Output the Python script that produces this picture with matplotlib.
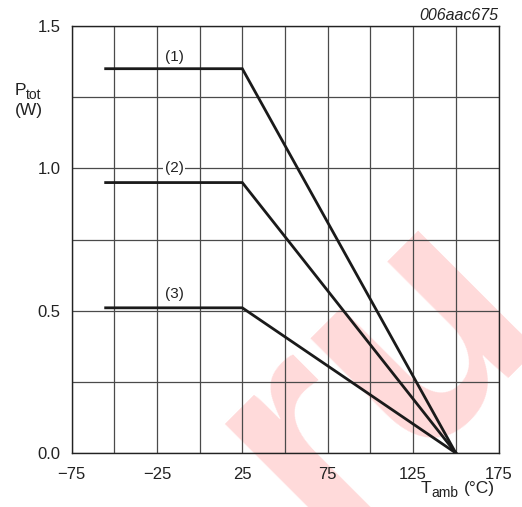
import matplotlib
matplotlib.use("Agg")
import matplotlib.pyplot as plt

plt.rcParams["font.family"] = ["Liberation Sans", "DejaVu Sans"]

# Power derating curves: total power vs ambient temperature
t_amb = [-55, 25, 150]
p_curve1 = [1.35, 1.35, 0.0]
p_curve2 = [0.95, 0.95, 0.0]
p_curve3 = [0.51, 0.51, 0.0]
curves = [p_curve1, p_curve2, p_curve3]
curve_labels = ["(1)", "(2)", "(3)"]
label_x = [-15, -15, -15]
label_y = [1.39, 1.0, 0.56]

x_ticks = [-75, -50, -25, 0, 25, 50, 75, 100, 125, 150, 175]
x_tick_labels = ["\u221275", "", "\u221225", "", "25", "", "75", "", "125", "", "175"]
y_ticks = [0.0, 0.25, 0.5, 0.75, 1.0, 1.25, 1.5]
y_tick_labels = ["0.0", "", "0.5", "", "1.0", "", "1.5"]

W, H = 522, 507
fig = plt.figure(figsize=(W / 100, H / 100), dpi=100)
fig.patch.set_facecolor("white")

# background mark
fig.text(322 / W, 1 - 543 / H, "ru", rotation=45, rotation_mode="anchor",
         ha="left", va="baseline", fontsize=229, fontweight="bold",
         family="Liberation Sans", color="#FFDADA", zorder=-5)

ax = fig.add_axes([71.5 / W, 1 - 453 / H, 427 / W, 427 / H])
ax.set_facecolor("none")
ax.set_xlim(-75, 175)
ax.set_ylim(0, 1.5)

ax.set_xticks(x_ticks)
ax.set_xticklabels(x_tick_labels)
ax.set_yticks(y_ticks)
ax.set_yticklabels(y_tick_labels)
ax.tick_params(length=0, labelsize=12, labelcolor="#222222")
ax.tick_params(axis="x", pad=10)
ax.tick_params(axis="y", pad=8)
ax.grid(True, color="#4a4a4a", linewidth=0.9)
ax.set_axisbelow(True)
for sp in ax.spines.values():
    sp.set_color("#222222")
    sp.set_linewidth(1.0)

for p in curves:
    ax.plot(t_amb, p, color="#1a1a1a", linewidth=2.0, solid_joinstyle="miter", zorder=3)

for lab, lx, ly in zip(curve_labels, label_x, label_y):
    ax.text(lx, ly, lab, ha="center", va="center", fontsize=11, color="#222222",
            bbox=dict(facecolor="white", edgecolor="none", pad=1.0), zorder=4)

# axis titles (main letter plus lowered subscript)
txt = "#222222"
fig.text(15 / W, 1 - 95 / H, "P", ha="left", va="baseline", fontsize=12.5, color=txt)
fig.text(26 / W, 1 - 99 / H, "tot", ha="left", va="baseline", fontsize=10, color=txt)
fig.text(15 / W, 1 - 115 / H, "(W)", ha="left", va="baseline", fontsize=12.5, color=txt)

fig.text(421 / W, 1 - 493 / H, "T", ha="left", va="baseline", fontsize=12.5, color=txt)
fig.text(431.5 / W, 1 - 497 / H, "amb", ha="left", va="baseline", fontsize=10, color=txt)
fig.text(495 / W, 1 - 493 / H, "(\u00b0C)", ha="right", va="baseline", fontsize=12.5, color=txt)

fig.text(498.5 / W, 1 - 20 / H, "006aac675", ha="right", va="baseline",
         fontsize=11.5, style="italic", color=txt)

fig.savefig("out.png", dpi=100, facecolor="white")
